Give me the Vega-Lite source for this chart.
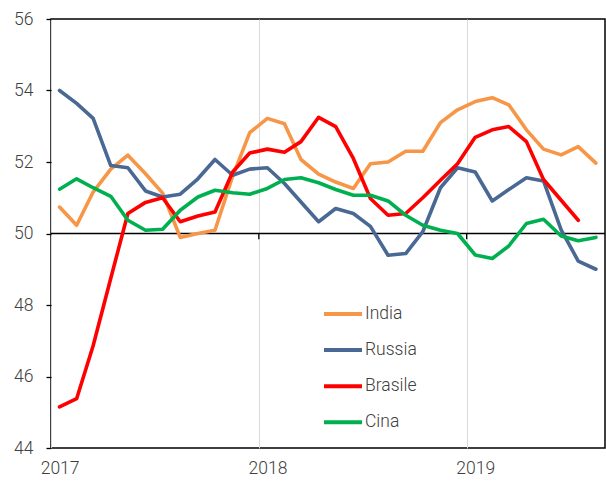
{
  "$schema": "https://vega.github.io/schema/vega-lite/v6.json",
  "width": 554,
  "height": 429,
  "autosize": {"type": "none"},
  "padding": {"left": 51, "top": 19, "right": 1, "bottom": 35},
  "background": "white",
  "view": {"stroke": "black", "strokeWidth": 1.5, "fill": "white"},
  "config": {
    "font": "Roboto",
    "axis": {"labelFont": "Roboto", "labelFontWeight": 300, "labelFontSize": 17.5, "labelColor": "#404040"}
  },
  "datasets": {
    "pmi": [
      {"date": "2017-01-16", "country": "India", "value": 50.74},
      {"date": "2017-02-15", "country": "India", "value": 50.23},
      {"date": "2017-03-16", "country": "India", "value": 51.16},
      {"date": "2017-04-16", "country": "India", "value": 51.8},
      {"date": "2017-05-16", "country": "India", "value": 52.19},
      {"date": "2017-06-16", "country": "India", "value": 51.67},
      {"date": "2017-07-16", "country": "India", "value": 51.13},
      {"date": "2017-08-16", "country": "India", "value": 49.89},
      {"date": "2017-09-16", "country": "India", "value": 50.0},
      {"date": "2017-10-16", "country": "India", "value": 50.09},
      {"date": "2017-11-16", "country": "India", "value": 51.6},
      {"date": "2017-12-16", "country": "India", "value": 52.82},
      {"date": "2018-01-16", "country": "India", "value": 53.22},
      {"date": "2018-02-15", "country": "India", "value": 53.07},
      {"date": "2018-03-16", "country": "India", "value": 52.07},
      {"date": "2018-04-16", "country": "India", "value": 51.66},
      {"date": "2018-05-16", "country": "India", "value": 51.44},
      {"date": "2018-06-16", "country": "India", "value": 51.26},
      {"date": "2018-07-16", "country": "India", "value": 51.95},
      {"date": "2018-08-16", "country": "India", "value": 52.0},
      {"date": "2018-09-16", "country": "India", "value": 52.3},
      {"date": "2018-10-16", "country": "India", "value": 52.3},
      {"date": "2018-11-16", "country": "India", "value": 53.1},
      {"date": "2018-12-16", "country": "India", "value": 53.46},
      {"date": "2019-01-16", "country": "India", "value": 53.69},
      {"date": "2019-02-15", "country": "India", "value": 53.8},
      {"date": "2019-03-16", "country": "India", "value": 53.6},
      {"date": "2019-04-16", "country": "India", "value": 52.9},
      {"date": "2019-05-16", "country": "India", "value": 52.36},
      {"date": "2019-06-16", "country": "India", "value": 52.2},
      {"date": "2019-07-16", "country": "India", "value": 52.43},
      {"date": "2019-08-16", "country": "India", "value": 51.97},
      {"date": "2017-01-16", "country": "Russia", "value": 54.0},
      {"date": "2017-02-15", "country": "Russia", "value": 53.64},
      {"date": "2017-03-16", "country": "Russia", "value": 53.22},
      {"date": "2017-04-16", "country": "Russia", "value": 51.9},
      {"date": "2017-05-16", "country": "Russia", "value": 51.84},
      {"date": "2017-06-16", "country": "Russia", "value": 51.19},
      {"date": "2017-07-16", "country": "Russia", "value": 51.02},
      {"date": "2017-08-16", "country": "Russia", "value": 51.1},
      {"date": "2017-09-16", "country": "Russia", "value": 51.53},
      {"date": "2017-10-16", "country": "Russia", "value": 52.07},
      {"date": "2017-11-16", "country": "Russia", "value": 51.63},
      {"date": "2017-12-16", "country": "Russia", "value": 51.8},
      {"date": "2018-01-16", "country": "Russia", "value": 51.84},
      {"date": "2018-02-15", "country": "Russia", "value": 51.4},
      {"date": "2018-03-16", "country": "Russia", "value": 50.88},
      {"date": "2018-04-16", "country": "Russia", "value": 50.33},
      {"date": "2018-05-16", "country": "Russia", "value": 50.7},
      {"date": "2018-06-16", "country": "Russia", "value": 50.56},
      {"date": "2018-07-16", "country": "Russia", "value": 50.2},
      {"date": "2018-08-16", "country": "Russia", "value": 49.39},
      {"date": "2018-09-16", "country": "Russia", "value": 49.44},
      {"date": "2018-10-16", "country": "Russia", "value": 50.05},
      {"date": "2018-11-16", "country": "Russia", "value": 51.28},
      {"date": "2018-12-16", "country": "Russia", "value": 51.84},
      {"date": "2019-01-16", "country": "Russia", "value": 51.72},
      {"date": "2019-02-15", "country": "Russia", "value": 50.91},
      {"date": "2019-03-16", "country": "Russia", "value": 51.23},
      {"date": "2019-04-16", "country": "Russia", "value": 51.56},
      {"date": "2019-05-16", "country": "Russia", "value": 51.47},
      {"date": "2019-06-16", "country": "Russia", "value": 50.1},
      {"date": "2019-07-16", "country": "Russia", "value": 49.23},
      {"date": "2019-08-16", "country": "Russia", "value": 49.0},
      {"date": "2017-01-16", "country": "Brasile", "value": 45.15},
      {"date": "2017-02-15", "country": "Brasile", "value": 45.38},
      {"date": "2017-03-16", "country": "Brasile", "value": 46.86},
      {"date": "2017-04-16", "country": "Brasile", "value": 48.75},
      {"date": "2017-05-16", "country": "Brasile", "value": 50.56},
      {"date": "2017-06-16", "country": "Brasile", "value": 50.87},
      {"date": "2017-07-16", "country": "Brasile", "value": 51.0},
      {"date": "2017-08-16", "country": "Brasile", "value": 50.33},
      {"date": "2017-09-16", "country": "Brasile", "value": 50.49},
      {"date": "2017-10-16", "country": "Brasile", "value": 50.6},
      {"date": "2017-11-16", "country": "Brasile", "value": 51.72},
      {"date": "2017-12-16", "country": "Brasile", "value": 52.25},
      {"date": "2018-01-16", "country": "Brasile", "value": 52.36},
      {"date": "2018-02-15", "country": "Brasile", "value": 52.27},
      {"date": "2018-03-16", "country": "Brasile", "value": 52.57},
      {"date": "2018-04-16", "country": "Brasile", "value": 53.25},
      {"date": "2018-05-16", "country": "Brasile", "value": 52.99},
      {"date": "2018-06-16", "country": "Brasile", "value": 52.1},
      {"date": "2018-07-16", "country": "Brasile", "value": 50.98},
      {"date": "2018-08-16", "country": "Brasile", "value": 50.51},
      {"date": "2018-09-16", "country": "Brasile", "value": 50.56},
      {"date": "2018-10-16", "country": "Brasile", "value": 51.0},
      {"date": "2018-11-16", "country": "Brasile", "value": 51.49},
      {"date": "2018-12-16", "country": "Brasile", "value": 51.95},
      {"date": "2019-01-16", "country": "Brasile", "value": 52.69},
      {"date": "2019-02-15", "country": "Brasile", "value": 52.9},
      {"date": "2019-03-16", "country": "Brasile", "value": 52.99},
      {"date": "2019-04-16", "country": "Brasile", "value": 52.57},
      {"date": "2019-05-16", "country": "Brasile", "value": 51.51},
      {"date": "2019-06-16", "country": "Brasile", "value": 50.93},
      {"date": "2019-07-16", "country": "Brasile", "value": 50.37},
      {"date": "2017-01-16", "country": "Cina", "value": 51.24},
      {"date": "2017-02-15", "country": "Cina", "value": 51.53},
      {"date": "2017-03-16", "country": "Cina", "value": 51.28},
      {"date": "2017-04-16", "country": "Cina", "value": 51.04},
      {"date": "2017-05-16", "country": "Cina", "value": 50.37},
      {"date": "2017-06-16", "country": "Cina", "value": 50.09},
      {"date": "2017-07-16", "country": "Cina", "value": 50.12},
      {"date": "2017-08-16", "country": "Cina", "value": 50.65},
      {"date": "2017-09-16", "country": "Cina", "value": 51.02},
      {"date": "2017-10-16", "country": "Cina", "value": 51.21},
      {"date": "2017-11-16", "country": "Cina", "value": 51.14},
      {"date": "2017-12-16", "country": "Cina", "value": 51.1},
      {"date": "2018-01-16", "country": "Cina", "value": 51.26},
      {"date": "2018-02-15", "country": "Cina", "value": 51.51},
      {"date": "2018-03-16", "country": "Cina", "value": 51.56},
      {"date": "2018-04-16", "country": "Cina", "value": 51.42},
      {"date": "2018-05-16", "country": "Cina", "value": 51.23},
      {"date": "2018-06-16", "country": "Cina", "value": 51.07},
      {"date": "2018-07-16", "country": "Cina", "value": 51.07},
      {"date": "2018-08-16", "country": "Cina", "value": 50.91},
      {"date": "2018-09-16", "country": "Cina", "value": 50.51},
      {"date": "2018-10-16", "country": "Cina", "value": 50.23},
      {"date": "2018-11-16", "country": "Cina", "value": 50.09},
      {"date": "2018-12-16", "country": "Cina", "value": 50.0},
      {"date": "2019-01-16", "country": "Cina", "value": 49.4},
      {"date": "2019-02-15", "country": "Cina", "value": 49.3},
      {"date": "2019-03-16", "country": "Cina", "value": 49.65},
      {"date": "2019-04-16", "country": "Cina", "value": 50.28},
      {"date": "2019-05-16", "country": "Cina", "value": 50.4},
      {"date": "2019-06-16", "country": "Cina", "value": 49.93},
      {"date": "2019-07-16", "country": "Cina", "value": 49.8},
      {"date": "2019-08-16", "country": "Cina", "value": 49.89}
    ],
    "yearStarts": [
      {"date": "2018-01-01"},
      {"date": "2019-01-01"}
    ],
    "baseline": [
      {"level": 50}
    ]
  },
  "layer": [
    {
      "data": {"name": "yearStarts"},
      "mark": {"type": "rule", "color": "black", "strokeWidth": 1.3},
      "encoding": {
        "x": {"field": "date", "type": "temporal"},
        "y": {"datum": 50, "type": "quantitative"},
        "y2": {"datum": 49.84}
      }
    },
    {
      "data": {"name": "baseline"},
      "mark": {"type": "rule", "color": "black", "strokeWidth": 1.5},
      "encoding": {
        "y": {"field": "level", "type": "quantitative"}
      }
    },
    {
      "data": {"name": "pmi"},
      "mark": {"type": "line", "strokeWidth": 3.6, "strokeJoin": "round", "strokeCap": "round"},
      "encoding": {
        "x": {
          "field": "date",
          "type": "temporal",
          "scale": {"domain": [{"year": 2017, "month": 1, "date": 1}, {"year": 2019, "month": 9, "date": 1}]},
          "axis": {
            "title": null,
            "values": [{"year": 2017, "month": 1, "date": 1}, {"year": 2018, "month": 1, "date": 1}, {"year": 2019, "month": 1, "date": 1}],
            "format": "%Y",
            "labelFlush": false,
            "labelAlign": "center",
            "labelOffset": 8.6,
            "labelPadding": 11,
            "ticks": false,
            "domain": false,
            "grid": true,
            "gridColor": "#D9D9D9",
            "gridWidth": 1
          }
        },
        "y": {
          "field": "value",
          "type": "quantitative",
          "scale": {"domain": [44, 56], "nice": false, "zero": false},
          "axis": {
            "title": null,
            "values": [44, 46, 48, 50, 52, 54, 56],
            "grid": false,
            "domain": false,
            "ticks": true,
            "tickColor": "black",
            "tickSize": 5,
            "tickWidth": 1.3,
            "labelPadding": 13
          }
        },
        "color": {
          "field": "country",
          "type": "nominal",
          "sort": ["India", "Russia", "Brasile", "Cina"],
          "scale": {"domain": ["India", "Russia", "Brasile", "Cina"], "range": ["#F79646", "#4A6894", "#FF0000", "#00B050"]},
          "legend": {
            "title": null,
            "orient": "none",
            "legendX": 271,
            "legendY": 274,
            "symbolType": "stroke",
            "symbolSize": 1444,
            "symbolStrokeWidth": 4,
            "labelFont": "Roboto",
            "labelFontWeight": 300,
            "labelFontSize": 17.5,
            "labelColor": "#404040",
            "labelOffset": 1,
            "rowPadding": 6.1
          }
        }
      }
    }
  ]
}
